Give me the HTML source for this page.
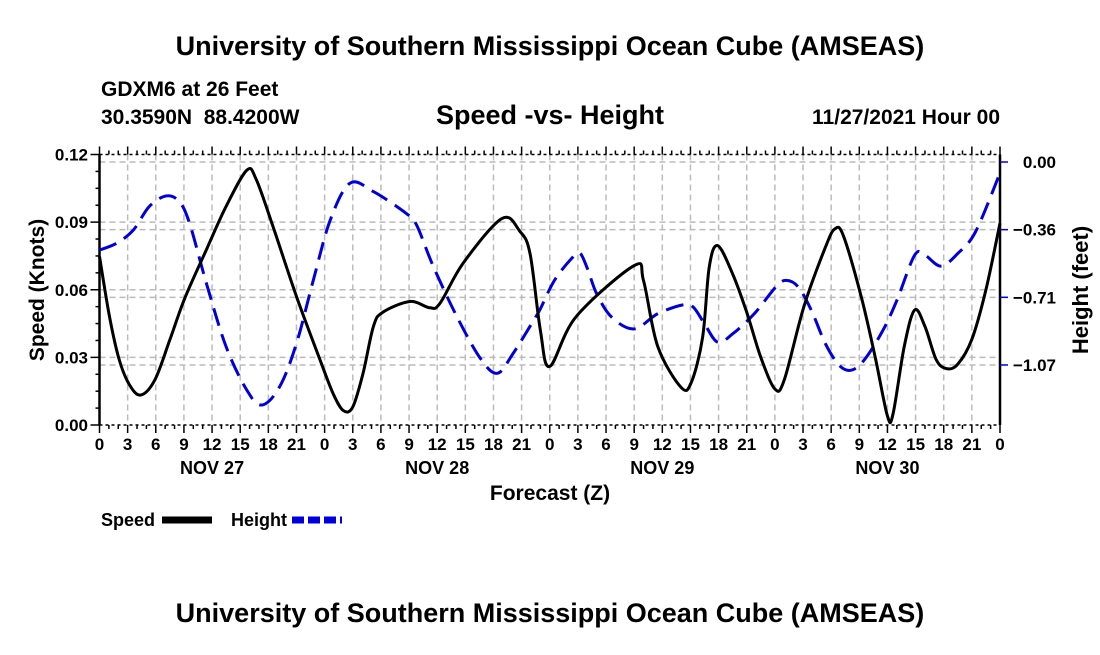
<!DOCTYPE html>
<html><head><meta charset="utf-8"><style>
body{margin:0;background:#fff;}
svg text{font-family:"Liberation Sans",Arial,sans-serif;font-weight:bold;fill:#000;}
</style></head><body>
<svg width="1100" height="650" xmlns="http://www.w3.org/2000/svg">
<text x="550" y="55" font-size="27" text-anchor="middle">University of Southern Mississippi Ocean Cube (AMSEAS)</text>
<text x="101" y="96" font-size="21">GDXM6 at 26 Feet</text>
<text x="101" y="124" font-size="21" xml:space="preserve">30.3590N  88.4200W</text>
<text x="550" y="124" font-size="27" text-anchor="middle">Speed -vs- Height</text>
<text x="1000" y="124" font-size="21" text-anchor="end">11/27/2021 Hour 00</text>
<g id="grid"></g>
<g id="axes"></g>
<g id="series"></g>
<text x="550" y="500" font-size="21" text-anchor="middle">Forecast (Z)</text>
<text transform="translate(44,290) rotate(-90)" font-size="21" text-anchor="middle">Speed (Knots)</text>
<text transform="translate(1088,290) rotate(-90)" font-size="22" text-anchor="middle">Height (feet)</text>
<g><text x="101" y="526" font-size="18">Speed</text><line x1="162" y1="520" x2="212" y2="520" stroke="#000" stroke-width="7"/></g>
<g><text x="231" y="526" font-size="18">Height</text><line x1="292" y1="520" x2="342" y2="520" stroke="#0000dd" stroke-width="7" stroke-dasharray="12,4"/></g>
<text x="550" y="622" font-size="27" text-anchor="middle">University of Southern Mississippi Ocean Cube (AMSEAS)</text>
</svg>
<script>
const speedHours=[0,1.07,2.1,3.2,4.4,5.9,7.5,9.1,11.4,13.5,15.7,16.7,18.5,21,23.5,24.9,26,27,28.1,29.2,30.2,33.1,35.2,36.3,38.8,42.9,44.8,45.9,47,48,50.8,57,58,59.5,62,63.1,64.3,65,65.9,67.5,69,70.5,72,73,75.1,77.4,78.4,79.3,81.2,82.7,84,84.6,85.8,86.9,88,89.2,90.3,91.5,93,94.5,96];
const speedValues=[0.0748,0.048,0.029,0.0178,0.0133,0.020,0.0378,0.0563,0.0778,0.097,0.113,0.109,0.088,0.057,0.029,0.014,0.0064,0.008,0.023,0.0437,0.050,0.0548,0.052,0.054,0.072,0.0916,0.086,0.076,0.042,0.026,0.048,0.0707,0.064,0.035,0.0167,0.019,0.039,0.070,0.0796,0.067,0.050,0.030,0.016,0.020,0.0526,0.079,0.087,0.084,0.057,0.030,0.004,0.005,0.035,0.051,0.0437,0.029,0.025,0.027,0.038,0.060,0.0896];
const heightHours=[0,1.8,3.6,5.3,7.1,8.5,9.6,11.4,13.5,15.7,17.3,19.2,21,22.8,24.6,26.7,29.2,32.7,33.8,35.6,38.1,40.6,42.4,44.1,46.3,47,48.5,50.3,51.2,52,53,54.6,57,59.5,62.2,63.3,64.5,65.9,67.5,69.8,72.1,73.2,74.5,75.9,77.4,78.9,80.2,81.6,83.5,85,86.9,88,89.7,91.5,93.4,96];
const heightValues=[-0.464,-0.429,-0.359,-0.235,-0.179,-0.209,-0.323,-0.64,-0.974,-1.202,-1.281,-1.185,-0.956,-0.622,-0.306,-0.112,-0.156,-0.271,-0.332,-0.552,-0.815,-1.035,-1.114,-1.009,-0.833,-0.774,-0.624,-0.51,-0.48,-0.56,-0.694,-0.818,-0.88,-0.80,-0.753,-0.765,-0.853,-0.95,-0.906,-0.80,-0.659,-0.624,-0.659,-0.783,-0.959,-1.074,-1.097,-1.039,-0.889,-0.73,-0.491,-0.491,-0.549,-0.482,-0.367,-0.058];
const speedTicks=[0,0.03,0.06,0.09,0.12];
const speedTickLabels=["0.00","0.03","0.06","0.09","0.12"];
const heightTicks=[0,-0.3567,-0.7133,-1.07];
const heightTickLabels=["0.00","\u22120.36","\u22120.71","\u22121.07"];
const dayLabels=["NOV 27","NOV 28","NOV 29","NOV 30"];
const L=99.5,R=1000,T=154.5,B=425;
const xs=h=>L+(R-L)*h/96;
const ys=v=>B-(B-T)*v/0.12;
const yh=v=>162-v*189.7;
const NS="http://www.w3.org/2000/svg";
function mk(p,t,a){const e=document.createElementNS(NS,t);for(const k in a)e.setAttribute(k,a[k]);p.appendChild(e);return e;}
const grid=document.getElementById('grid'),axes=document.getElementById('axes'),ser=document.getElementById('series');
for(let h=3;h<96;h+=3){const g=mk(grid,'line',{x1:xs(h),x2:xs(h),y1:T,y2:B,stroke:'#bbb','stroke-width':1.5,'stroke-dasharray':'6,4'});

}
speedTicks.slice(1,4).forEach(v=>{const g=mk(grid,'line',{x1:L,x2:R,y1:ys(v),y2:ys(v),stroke:'#bbb','stroke-width':1.5,'stroke-dasharray':'6,4'});

});
heightTicks.forEach(v=>{const g=mk(grid,'line',{x1:L,x2:R,y1:yh(v),y2:yh(v),stroke:'#bbb','stroke-width':1.5,'stroke-dasharray':'6,4'});

});
mk(axes,'line',{x1:L,x2:L,y1:T,y2:B,stroke:'#000','stroke-width':2.5});
mk(axes,'line',{x1:R,x2:R,y1:T,y2:B,stroke:'#000','stroke-width':2.5});
mk(axes,'line',{x1:L,x2:R,y1:T,y2:T,stroke:'#000','stroke-width':1.5,'stroke-dasharray':'3,3'});
mk(axes,'line',{x1:L,x2:R,y1:B,y2:B,stroke:'#000','stroke-width':1.5,'stroke-dasharray':'3,3'});
for(let h=0;h<=96;h++){const len=h%3==0?8:4;mk(axes,'line',{x1:xs(h),x2:xs(h),y1:T,y2:T-len,stroke:'#000','stroke-width':1.5});mk(axes,'line',{x1:xs(h),x2:xs(h),y1:B,y2:B+len,stroke:'#000','stroke-width':1.5});
if(h%3==0){const t=mk(axes,'text',{x:xs(h),y:450,'font-size':17,'text-anchor':'middle'});t.textContent=String(h%24);

}}
dayLabels.forEach((d,i)=>{const t=mk(axes,'text',{x:xs(i*24+12),y:474,'font-size':18,'text-anchor':'middle'});t.textContent=d;

});
for(let v=0;v<=0.1201;v+=0.0075){mk(axes,'line',{x1:L,x2:L-(Math.abs(v/0.03-Math.round(v/0.03))<0.01?9:4),y1:ys(v),y2:ys(v),stroke:'#000','stroke-width':1.5});}
speedTicks.forEach((v,i)=>{const t=mk(axes,'text',{x:88,y:ys(v)+6,'font-size':17,'text-anchor':'end'});t.textContent=speedTickLabels[i];

});
heightTicks.forEach((v,i)=>{mk(axes,'line',{x1:R,x2:R+8,y1:yh(v),y2:yh(v),stroke:'#0000dd','stroke-width':1.5});
const t=mk(axes,'text',{x:1056,y:yh(v)+6,'font-size':17,'text-anchor':'end'});t.textContent=heightTickLabels[i];

});
function path(hs,vs,yf){const p=hs.map((h,i)=>[xs(h),yf(vs[i])]);let d='M'+p[0][0]+','+p[0][1];
for(let i=0;i<p.length-1;i++){const p0=p[Math.max(i-1,0)],p1=p[i],p2=p[i+1],p3=p[Math.min(i+2,p.length-1)];
d+=` C${p1[0]+(p2[0]-p0[0])/6},${p1[1]+(p2[1]-p0[1])/6} ${p2[0]-(p3[0]-p1[0])/6},${p2[1]-(p3[1]-p1[1])/6} ${p2[0]},${p2[1]}`;}return d;}
const hp=mk(ser,'path',{d:path(heightHours,heightValues,yh),fill:'none',stroke:'#0000dd','stroke-width':3,'stroke-dasharray':'18,9'});


const sp=mk(ser,'path',{d:path(speedHours,speedValues,ys),fill:'none',stroke:'#000','stroke-width':3});


</script>
</body></html>
